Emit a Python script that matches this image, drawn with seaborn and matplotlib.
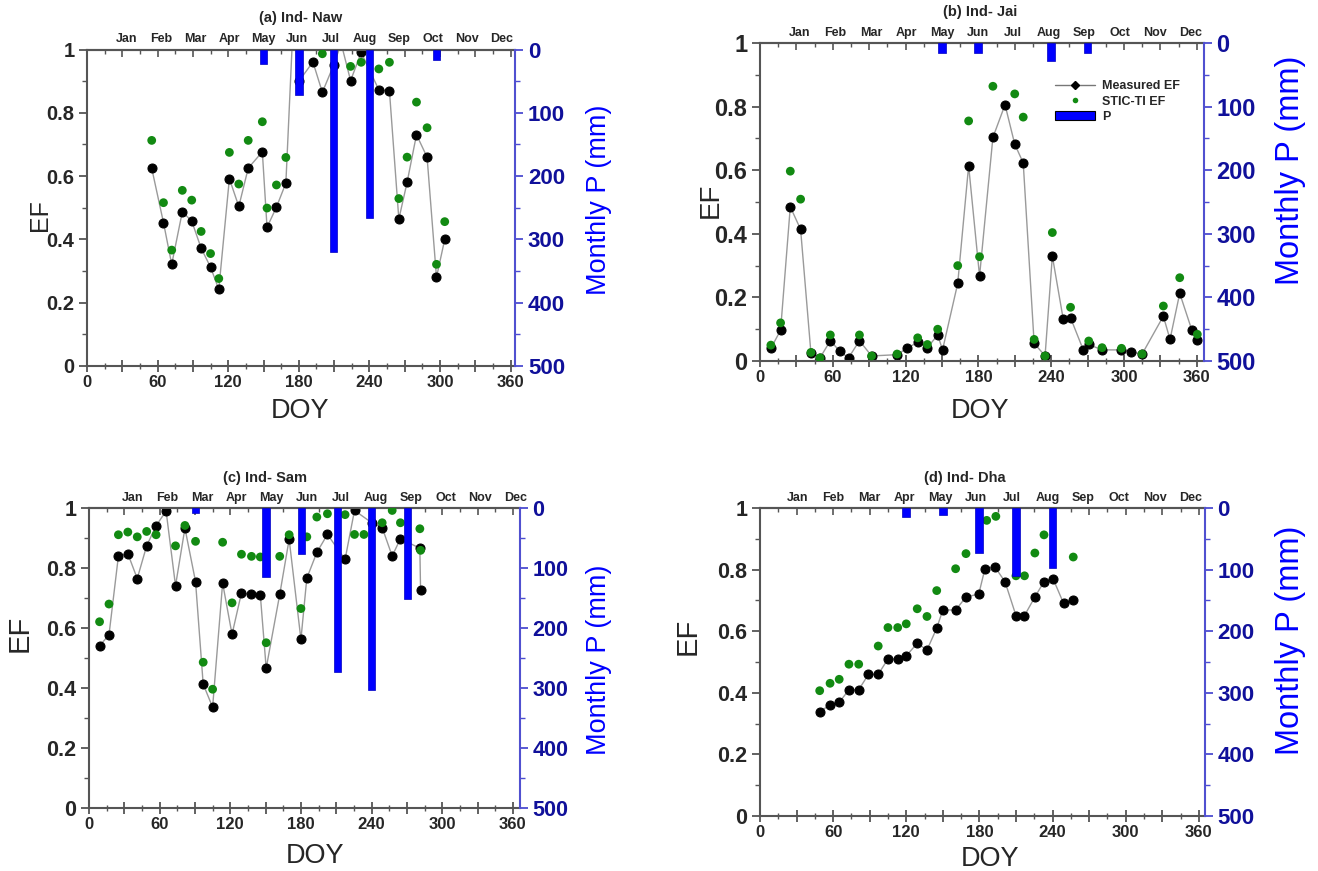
import numpy as np
import matplotlib
matplotlib.use("Agg")
import matplotlib.pyplot as plt
from matplotlib.ticker import FixedLocator, FuncFormatter, MultipleLocator, NullFormatter
from matplotlib.lines import Line2D
from matplotlib.patches import Patch
import seaborn as sns

# ---------------- data ----------------
months = ["Jan", "Feb", "Mar", "Apr", "May", "Jun", "Jul", "Aug", "Sep", "Oct", "Nov", "Dec"]

# (a) Ind- Naw
naw_meas_doy = [55, 65, 72, 81, 89, 97, 105, 112, 121, 129, 137, 149, 153, 161, 169, 176, 180,
                192, 200, 209.5, 216, 224, 233, 248, 257, 265, 272, 280, 289, 297, 304]
naw_meas_ef = [0.625, 0.453, 0.321, 0.487, 0.458, 0.372, 0.312, 0.242, 0.592, 0.504, 0.625, 0.677,
               0.438, 0.502, 0.578, 1.15, 0.90, 0.961, 0.865, 0.95, 1.02, 0.902, 0.991, 0.873,
               0.870, 0.464, 0.580, 0.731, 0.660, 0.280, 0.400]
naw_stic_doy = [55, 65, 72, 81, 89, 97, 105, 112, 121, 129, 137, 149, 153, 161, 169, 200,
                224, 233, 248, 257, 265, 272, 280, 289, 297, 304]
naw_stic_ef = [0.713, 0.516, 0.366, 0.555, 0.524, 0.425, 0.355, 0.276, 0.675, 0.575, 0.713, 0.772,
               0.499, 0.572, 0.659, 0.987, 0.947, 0.960, 0.939, 0.960, 0.529, 0.660, 0.834, 0.753,
               0.321, 0.456]
naw_p_doy = [150, 180, 209.5, 240, 297]
naw_p_mm = [23, 71, 320, 267, 16]

# (b) Ind- Jai
jai_meas_doy = [9, 17, 25, 33.5, 42, 49.5, 58, 66, 73, 82, 92, 113, 121, 130, 138, 146.5, 150.5,
                163, 172, 181, 192, 202, 210, 217, 226, 235, 241, 250, 256, 266.5, 271, 282, 298,
                306, 315, 332.5, 338, 346, 356, 360.5]
jai_meas_ef = [0.040, 0.097, 0.485, 0.414, 0.026, 0.010, 0.064, 0.030, 0.010, 0.064, 0.016, 0.020,
               0.040, 0.059, 0.042, 0.082, 0.035, 0.244, 0.614, 0.267, 0.703, 0.806, 0.682, 0.623,
               0.056, 0.016, 0.330, 0.131, 0.136, 0.035, 0.052, 0.035, 0.035, 0.029, 0.022, 0.141,
               0.068, 0.213, 0.097, 0.066]
jai_stic_doy = [9, 17, 25, 33.5, 42, 49.5, 58, 82, 92, 113, 130, 138, 146.5, 163, 172, 181, 192,
                210, 217, 226, 235, 241, 256, 271, 282, 298, 315, 332.5, 346, 360.5]
jai_stic_ef = [0.050, 0.120, 0.597, 0.509, 0.027, 0.010, 0.082, 0.082, 0.016, 0.022, 0.073, 0.052,
               0.100, 0.300, 0.755, 0.328, 0.864, 0.840, 0.767, 0.068, 0.016, 0.404, 0.169, 0.063,
               0.042, 0.040, 0.022, 0.173, 0.262, 0.084]
jai_p_doy = [150, 180, 240, 270]
jai_p_mm = [15, 15, 28, 15]

# (c) Ind- Sam
sam_meas_doy = [9, 17, 25, 33, 41, 49, 57, 65.5, 73.5, 81.5, 90.5, 97, 105, 113.5, 121.5, 129.5,
                138, 145.5, 150.5, 162, 170, 180, 185, 193.5, 202.5, 217.5, 225.5, 240.5, 249,
                257.5, 264.5, 281, 281.6]
sam_meas_ef = [0.541, 0.577, 0.840, 0.848, 0.765, 0.874, 0.941, 0.990, 0.741, 0.933, 0.755, 0.413,
               0.336, 0.750, 0.579, 0.717, 0.712, 0.711, 0.466, 0.712, 0.896, 0.562, 0.766, 0.852,
               0.912, 0.829, 0.992, 0.950, 0.935, 0.840, 0.898, 0.866, 0.726]
sam_stic_doy = [9, 17, 25, 33, 41, 49, 57, 73.5, 81.5, 90.5, 97, 105, 113.5, 121.5, 129.5, 138,
                145.5, 150.5, 162, 170, 180, 185, 193.5, 202.5, 217.5, 225.5, 233.5, 249, 257.5,
                264.5, 281, 281.6]
sam_stic_ef = [0.621, 0.680, 0.911, 0.920, 0.904, 0.922, 0.911, 0.874, 0.942, 0.889, 0.486, 0.396,
               0.886, 0.684, 0.846, 0.839, 0.837, 0.551, 0.839, 0.911, 0.665, 0.904, 0.970, 0.981,
               0.978, 0.912, 0.912, 0.951, 0.992, 0.951, 0.931, 0.859]
sam_p_doy = [90.5, 150.5, 180.5, 211, 240, 270.5]
sam_p_mm = [8, 115, 76, 273, 303, 152]

# (d) Ind- Dha
dha_meas_doy = [49, 57.5, 65, 73, 81, 89, 97, 105, 113, 120, 129, 137, 145, 150, 160.5, 169,
                179.5, 184.5, 192.5, 201, 210, 217, 225.5, 233, 240.5, 249, 257]
dha_meas_ef = [0.339, 0.361, 0.369, 0.410, 0.410, 0.460, 0.460, 0.510, 0.510, 0.520, 0.561, 0.539,
               0.610, 0.669, 0.669, 0.711, 0.721, 0.802, 0.810, 0.761, 0.651, 0.651, 0.711, 0.761,
               0.770, 0.691, 0.700]
dha_stic_doy = [49, 57.5, 65, 73, 81, 97, 105, 113, 120, 129, 137, 145, 160.5, 169, 186, 193.5,
                210, 217, 225.5, 233, 257]
dha_stic_ef = [0.407, 0.431, 0.444, 0.493, 0.493, 0.552, 0.612, 0.612, 0.624, 0.673, 0.648, 0.732,
               0.803, 0.852, 0.960, 0.973, 0.780, 0.780, 0.854, 0.913, 0.841]
dha_p_doy = [120, 150, 180, 210, 240]
dha_p_mm = [14, 11, 73, 111, 97]

# ---------------- style ----------------
sns.set_style("ticks")
plt.rcParams["font.family"] = ["Liberation Sans", "DejaVu Sans"]

GREEN = "#128a12"
BLUE = "#0000ff"
NAVY = "#10109a"
SPINE = "#555555"

fig = plt.figure(figsize=(13.18, 8.71), dpi=100)

panels = [
    dict(title="(a) Ind- Naw", md=naw_meas_doy, me=naw_meas_ef, sd=naw_stic_doy, se=naw_stic_ef,
         pd=naw_p_doy, pm=naw_p_mm, rect=[0.066, 0.580, 0.325, 0.363], xmax=364,
         mon=(34, 352), ef=(-0.082, 0.478), doy=(0.498, -0.101), tit=(0.498, 1.10),
         mp=(1.166, 0.525), yfs=14.5, rfs=16, eff=18, mpf=19.5, legend=False),
    dict(title="(b) Ind- Jai", md=jai_meas_doy, me=jai_meas_ef, sd=jai_stic_doy, se=jai_stic_ef,
         pd=jai_p_doy, pm=jai_p_mm, rect=[0.5766, 0.5855, 0.3369, 0.3651], xmax=366,
         mon=(33, 355), ef=(-0.081, 0.506), doy=(0.495, -0.116), tit=(0.495, 1.097),
         mp=(1.160, 0.60), yfs=17, rfs=17, eff=20, mpf=23.5, legend=True),
    dict(title="(c) Ind- Sam", md=sam_meas_doy, me=sam_meas_ef, sd=sam_stic_doy, se=sam_stic_ef,
         pd=sam_p_doy, pm=sam_p_mm, rect=[0.0675, 0.0723, 0.327, 0.3444], xmax=366,
         mon=(37, 362), ef=(-0.128, 0.583), doy=(0.524, -0.117), tit=(0.408, 1.10),
         mp=(1.153, 0.493), yfs=15.5, rfs=15.5, eff=21, mpf=19.5, legend=False),
    dict(title="(d) Ind- Dha", md=dha_meas_doy, me=dha_meas_ef, sd=dha_stic_doy, se=dha_stic_ef,
         pd=dha_p_doy, pm=dha_p_mm, rect=[0.5766, 0.0631, 0.3376, 0.3536], xmax=365,
         mon=(31, 353), ef=(-0.130, 0.584), doy=(0.517, -0.097), tit=(0.461, 1.097),
         mp=(1.157, 0.571), yfs=15.5, rfs=16, eff=21, mpf=23.5, legend=False),
]

for p in panels:
    ax = fig.add_axes(p["rect"])
    sns.lineplot(x=p["md"], y=p["me"], ax=ax, sort=False, color="#9a9a9a", lw=1.0,
                 marker="o", markersize=6.5, markerfacecolor="black",
                 markeredgecolor="black", zorder=2)
    sns.scatterplot(x=p["sd"], y=p["se"], ax=ax, color=GREEN, s=40, edgecolor="none",
                    zorder=3)
    ax.set_xlim(0, p["xmax"])
    ax.set_ylim(0, 1)

    # bottom axis ticks
    ax.xaxis.set_major_locator(FixedLocator(np.arange(0, 361, 30)))
    ax.xaxis.set_minor_locator(FixedLocator(np.arange(15, 361, 30)))
    ax.xaxis.set_major_formatter(FuncFormatter(lambda v, pos: f"{int(v)}" if int(v) % 60 == 0 else ""))
    ax.tick_params(axis="x", which="major", direction="inout", length=9, width=1.3,
                   color=SPINE, labelsize=12, pad=2, top=False)
    ax.tick_params(axis="x", which="minor", direction="inout", length=5, width=1.0,
                   color=SPINE, top=False)
    # left axis
    ax.yaxis.set_major_locator(MultipleLocator(0.2))
    ax.yaxis.set_minor_locator(MultipleLocator(0.1))
    ax.yaxis.set_major_formatter(FuncFormatter(lambda v, pos: f"{v:g}"))
    ax.tick_params(axis="y", which="major", direction="out", length=6, width=1.3,
                   color=SPINE, labelsize=p["yfs"], pad=3)
    ax.tick_params(axis="y", which="minor", direction="out", length=3.5, width=1.0, color=SPINE)
    for lab in ax.get_xticklabels() + ax.get_yticklabels():
        lab.set_fontweight("bold")

    for side in ["left", "bottom", "top"]:
        ax.spines[side].set_color(SPINE)
        ax.spines[side].set_linewidth(1.5)
    ax.spines["right"].set_visible(False)

    ax.set_xlabel("DOY", fontsize=19.5)
    ax.set_ylabel("EF", fontsize=p["eff"])
    ax.xaxis.set_label_coords(*p["doy"])
    ax.yaxis.set_label_coords(*p["ef"])
    ax.text(p["tit"][0], p["tit"][1], p["title"], transform=ax.transAxes, ha="center",
            va="center", fontsize=10.5, fontweight="bold")

    # top axis: tick marks
    topt = ax.secondary_xaxis("top")
    topt.xaxis.set_major_locator(FixedLocator(np.arange(0, 361, 30)))
    topt.xaxis.set_minor_locator(FixedLocator(np.arange(15, 361, 30)))
    topt.xaxis.set_major_formatter(NullFormatter())
    topt.tick_params(axis="x", which="major", direction="in", length=5, width=1.2, color=SPINE)
    topt.tick_params(axis="x", which="minor", direction="in", length=3, width=1.0, color=SPINE)
    topt.spines["top"].set_color(SPINE)
    topt.spines["top"].set_linewidth(1.5)
    # top axis: month labels
    topm = ax.secondary_xaxis("top")
    topm.set_xticks(np.linspace(p["mon"][0], p["mon"][1], 12))
    topm.set_xticklabels(months, fontsize=9, fontweight="bold")
    topm.tick_params(axis="x", length=0, pad=3)
    topm.spines["top"].set_visible(False)

    # precipitation axis
    ax2 = ax.twinx()
    ax2.bar(p["pd"], p["pm"], width=6.5, color=BLUE, edgecolor="#0000c0", linewidth=0.5,
            zorder=4)
    ax2.set_ylim(500, 0)
    ax2.set_xlim(0, p["xmax"])
    ax2.yaxis.set_major_locator(MultipleLocator(100))
    ax2.yaxis.set_minor_locator(MultipleLocator(50))
    ax2.tick_params(axis="y", which="major", direction="out", length=6, width=1.3,
                    color="#4c4cd0", labelsize=p["rfs"], labelcolor=NAVY, pad=3)
    ax2.tick_params(axis="y", which="minor", direction="out", length=3.5, width=1.0,
                    color="#4c4cd0")
    for lab in ax2.get_yticklabels():
        lab.set_fontweight("bold")
    for side in ["left", "bottom", "top"]:
        ax2.spines[side].set_visible(False)
    ax2.spines["right"].set_color("#5050d0")
    ax2.spines["right"].set_linewidth(1.5)
    ax2.set_ylabel("Monthly P (mm)", fontsize=p["mpf"], color=BLUE)
    ax2.yaxis.set_label_coords(*p["mp"])

    if p["legend"]:
        handles = [
            Line2D([0], [0], color="#777777", lw=1, marker="D", markersize=4,
                   markerfacecolor="black", markeredgecolor="black"),
            Line2D([0], [0], color="none", marker="o", markersize=4,
                   markerfacecolor=GREEN, markeredgecolor="none"),
            Patch(facecolor=BLUE, edgecolor="black", linewidth=0.8),
        ]
        ax2.legend(handles, ["Measured EF", "STIC-TI EF", "P"], loc="upper left",
                   bbox_to_anchor=(0.653, 0.898), frameon=False,
                   prop=dict(size=9, weight="bold"), handlelength=3.2,
                   labelspacing=0.25, borderaxespad=0, handletextpad=0.6)

fig.savefig("out.png", dpi=100)
